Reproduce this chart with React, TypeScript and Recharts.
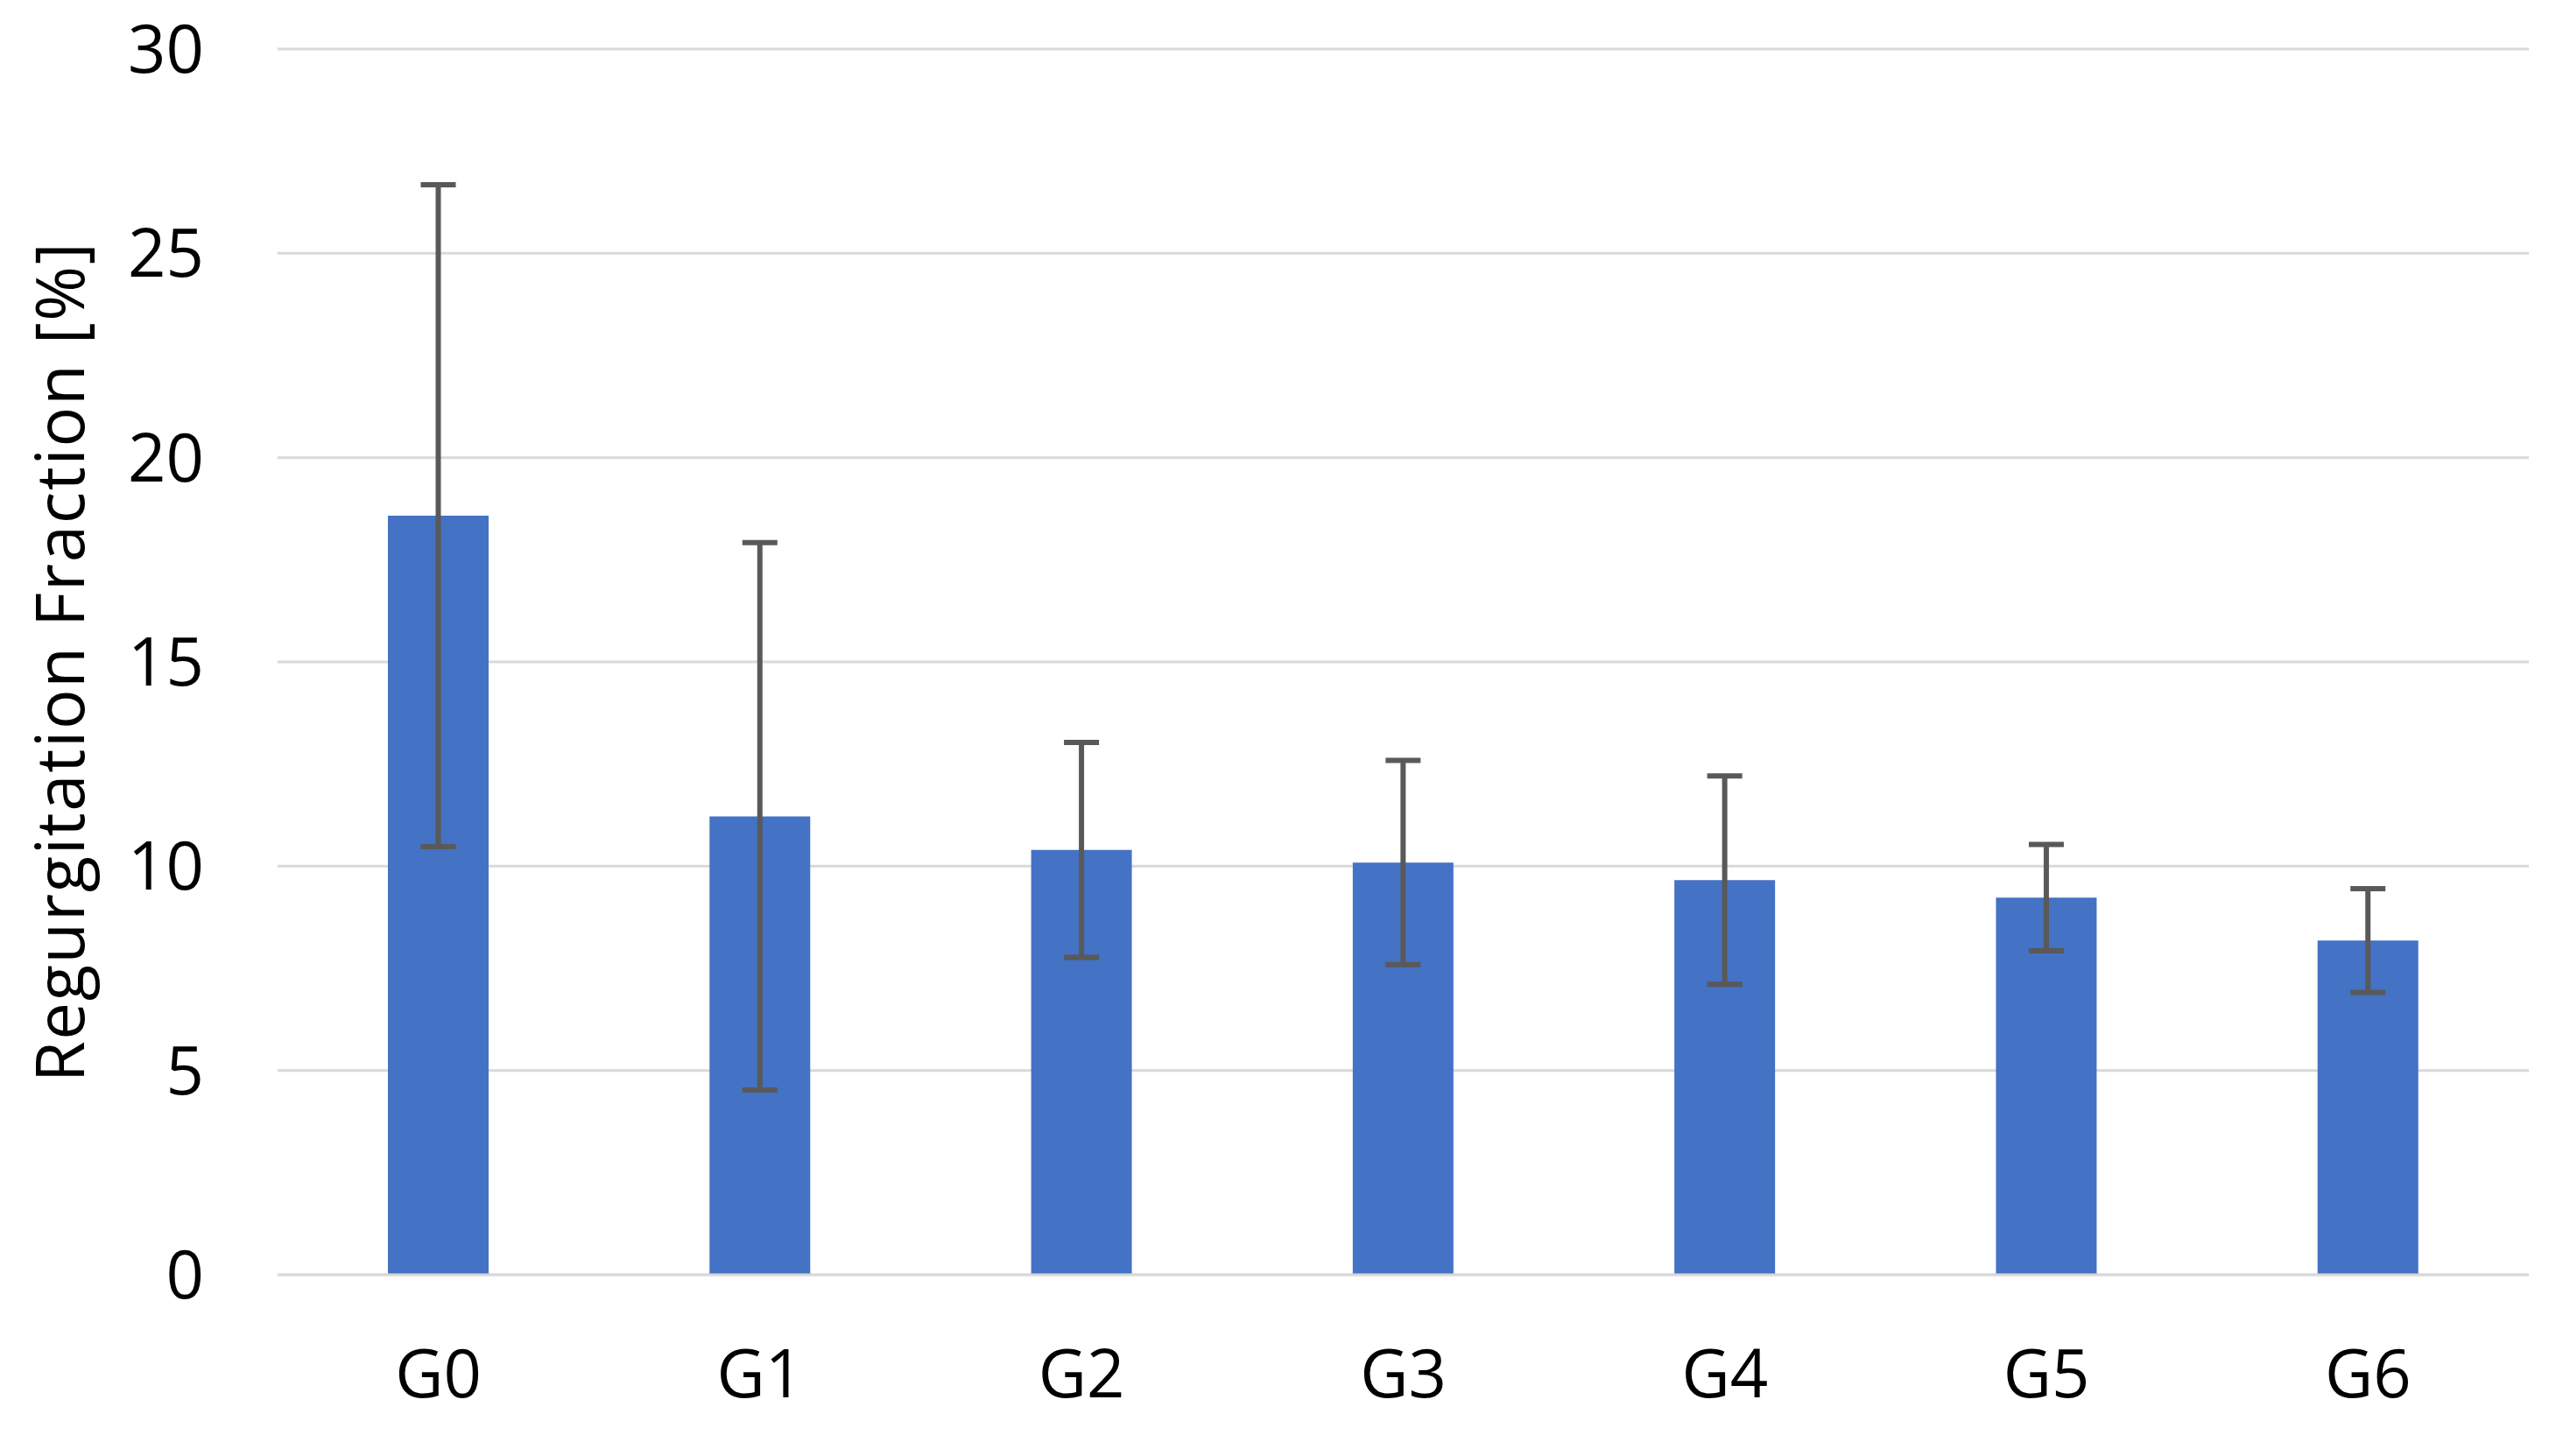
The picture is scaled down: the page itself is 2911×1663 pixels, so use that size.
import { BarChart, Bar, XAxis, YAxis, CartesianGrid, ErrorBar } from 'recharts';

const groups = ['G0', 'G1', 'G2', 'G3', 'G4', 'G5', 'G6'];
const meanRF = [18.58, 11.22, 10.4, 10.09, 9.66, 9.23, 8.18];
const sdRF = [8.1, 6.7, 2.63, 2.5, 2.55, 1.3, 1.27];
const yTicks = [0, 5, 10, 15, 20, 25, 30];

const data = groups.map((g, i) => ({ group: g, rf: meanRF[i], sd: sdRF[i] }));

const FONT = '"Open Sans", sans-serif';

const YLabel = ({ viewBox }: any) => {
  const cx = viewBox.x + 66;
  const cy = viewBox.y + viewBox.height / 2;
  return (
    <text
      x={cx}
      y={cy}
      transform={`rotate(-90, ${cx}, ${cy})`}
      textAnchor="middle"
      dominantBaseline="central"
      fontFamily={FONT}
      fontSize={76}
      letterSpacing={1.7}
      fill="#000"
    >
      Regurgitation Fraction [%]
    </text>
  );
};

export default function App() {
  return (
    <div style={{ position: 'absolute', left: 0, top: 0, background: '#fff' }}>
      <BarChart
        width={2911}
        height={1663}
        data={data}
        margin={{ top: 56, right: 23, bottom: 177, left: 0 }}
      >
        <CartesianGrid vertical={false} stroke="#d9d9d9" strokeWidth={3} />
        <XAxis
          dataKey="group"
          axisLine={{ stroke: '#d9d9d9', strokeWidth: 3 }}
          tickLine={false}
          tickSize={0}
          tickMargin={86}
          tick={{ fontSize: 76, fontFamily: FONT, fill: '#000' }}
        />
        <YAxis
          width={317}
          domain={[0, 30]}
          ticks={yTicks}
          axisLine={false}
          tickLine={false}
          tickSize={0}
          tickMargin={84}
          tick={{ fontSize: 76, fontFamily: FONT, fill: '#000' }}
          label={<YLabel />}
        />
        <Bar dataKey="rf" fill="#4472c4" barSize={115} isAnimationActive={false}>
          <ErrorBar dataKey="sd" direction="y" width={20} strokeWidth={6} stroke="#595959" />
        </Bar>
      </BarChart>
    </div>
  );
}
